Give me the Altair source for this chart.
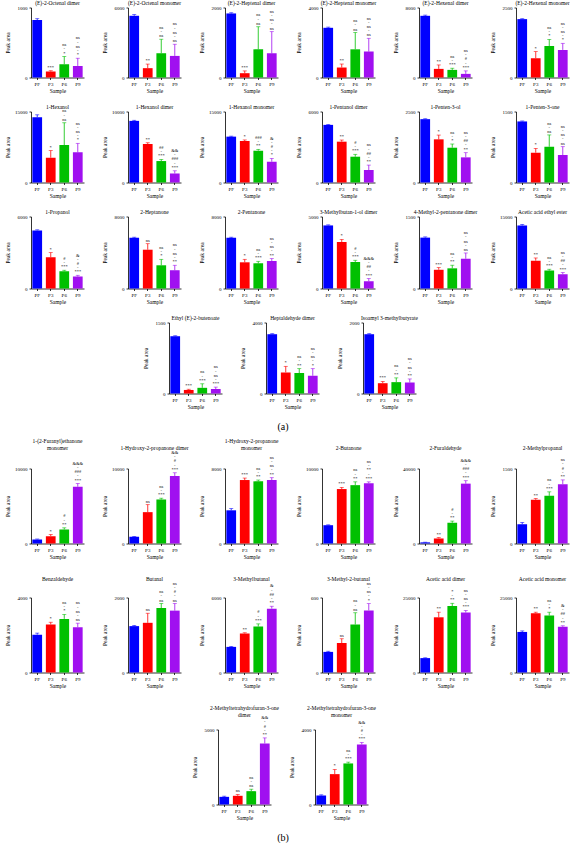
import altair as alt
import pandas as pd

SAMPLES = ["PF", "P3", "P6", "P9"]
COLORS = ["#0000ff", "#ff0000", "#00c000", "#a010f0"]
FONT = "Liberation Serif"

# ---------------- (a) ----------------
A_TITLES = [
    "(E)-2-Octenal dimer", "(E)-2-Octenal monomer", "(E)-2-Heptenal dimer",
    "(E)-2-Heptenal monomer", "(E)-2-Hexenal dimer", "(E)-2-Hexenal monomer",
    "1-Hexanol", "1-Hexanol dimer", "1-Hexanol monomer",
    "1-Pentanol dimer", "1-Penten-3-ol", "1-Penten-3-one",
    "1-Propanol", "2-Heptanone", "2-Pentanone",
    "3-Methylbutan-1-ol dimer", "4-Methyl-2-pentanone dimer", "Acetic acid ethyl ester",
    "Ethyl (E)-2-butenoate", "Heptaldehyde dimer", "Isoamyl 3-methylbutyrate",
]
A_MEANS = [
    [820, 85, 190, 165], [5290, 800, 2080, 1850], [1830, 123, 805, 690],
    [2840, 570, 1610, 1480], [7050, 985, 870, 415], [2085, 690, 1125, 985],
    [13800, 5240, 7920, 6370], [8680, 5420, 3020, 1270], [9690, 8770, 6720, 4390],
    [4870, 3450, 2180, 1050], [2230, 1520, 1225, 885], [1290, 630, 755, 580],
    [4840, 2600, 1440, 1000], [5640, 4310, 2580, 2030], [5640, 2910, 2800, 3060],
    [4380, 3230, 1840, 510], [1060, 390, 420, 620], [13130, 5800, 3730, 2970],
    [1210, 75, 120, 95], [3340, 1190, 1150, 1000], [1670, 290, 320, 310],
]
A_ERRS = [
    [20, 12, 110, 110], [100, 350, 1200, 1000], [20, 65, 645, 620],
    [40, 200, 960, 760], [80, 450, 190, 340], [15, 235, 235, 235],
    [500, 1500, 4700, 1900], [80, 180, 230, 380], [100, 220, 280, 700],
    [40, 140, 200, 420], [15, 150, 130, 165], [10, 90, 250, 177],
    [50, 390, 80, 100], [60, 670, 660, 550], [60, 330, 220, 260],
    [40, 180, 120, 180], [15, 45, 65, 120], [200, 560, 280, 350],
    [10, 15, 85, 40], [30, 340, 250, 400], [15, 50, 120, 100],
]
A_SIGS = [
    ["", "***", "ns/*", "ns/ns/*"], ["", "**", "ns/ns", "ns/ns/ns"], ["", "***", "ns/ns", "ns/ns/ns"],
    ["", "**", "ns/ns", "ns/ns/ns"], ["", "**", "ns/***", "ns/#/***"], ["", "*", "ns/*", "ns/ns/*"],
    ["", "*", "ns/ns", "ns/ns/*"], ["", "**", "##/***", "&&/###/***"], ["", "*", "###/**", "&/#/*"],
    ["", "**", "#/***", "ns/##/**"], ["", "*", "ns/*", "ns/##/**"], ["", "*", "ns/ns", "ns/ns/ns"],
    ["", "*", "#/***", "&/#/***"], ["", "ns", "ns/*", "ns/ns/**"], ["", "*", "ns/***", "ns/ns/**"],
    ["", "*", "#/***", "&&&/##/***"], ["", "***", "ns/**", "ns/ns/ns"], ["", "**", "ns/***", "ns/##/***"],
    ["", "***", "ns/***", "ns/ns/***"], ["", "*", "ns/**", "ns/ns/*"], ["", "***", "ns/**", "ns/ns/**"],
]
A_YMAX = [1000, 6000, 2000, 4000, 8000, 2500,
          15000, 10000, 15000, 6000, 2500, 1500,
          6000, 8000, 8000, 5000, 1500, 15000,
          1500, 4000, 2000]
A_YSTEP = [200, 2000, 500, 1000, 2000, 500,
           5000, 2000, 5000, 2000, 500, 500,
           2000, 2000, 2000, 1000, 500, 5000,
           500, 1000, 500]

# ---------------- (b) ----------------
B_TITLES = [
    "1-(2-Furanyl)ethanone|monomer", "1-Hydroxy-2-propanone dimer", "1-Hydroxy-2-propanone|monomer",
    "2-Butanone", "2-Furaldehyde", "2-Methylpropanal",
    "Benzaldehyde", "Butanal", "3-Methylbutanal",
    "3-Methyl-2-butanal", "Acetic acid dimer", "Acetic acid monomer",
    "2-Methyltetrahydrofuran-3-one|dimer", "2-Methyltetrahydrofuran-3-one|monomer",
]
B_MEANS = [
    [550, 980, 1870, 7570], [900, 4180, 5870, 9000], [3540, 6770, 6630, 6770],
    [2440, 7260, 7780, 8040], [600, 2680, 11070, 31930], [385, 873, 953, 1187],
    [2020, 2560, 2860, 2420], [1237, 1325, 1720, 1650], [2050, 3120, 3680, 5110],
    [165, 236, 384, 497], [4800, 18400, 22160, 20000], [13520, 19770, 18980, 15230],
    [510, 580, 890, 4070], [480, 1620, 2190, 3200],
]
B_ERRS = [
    [50, 220, 220, 430], [40, 1000, 170, 430], [180, 210, 140, 250],
    [50, 220, 440, 180], [100, 520, 890, 1570], [35, 27, 80, 85],
    [80, 120, 240, 210], [17, 255, 120, 190], [40, 60, 210, 190],
    [5, 34, 94, 54], [100, 1700, 910, 700], [340, 330, 1120, 340],
    [45, 90, 130, 370], [35, 250, 70, 110],
]
B_SIGS = [
    ["", "*", "#/**", "&&&/###/***"], ["", "ns", "ns/***", "&&/#/***"], ["", "***", "ns/**", "ns/ns/**"],
    ["", "***", "ns/**", "ns/**/***"], ["", "**", "#/**", "&&&/###/***"], ["", "**", "ns/***", "ns/#/**"],
    ["", "*", "ns/*", "ns/ns/ns"], ["", "ns", "ns/ns", "ns/#/ns"], ["", "**", "#/***", "&/##/**"],
    ["", "ns", "ns/ns", "ns/ns/*"], ["", "**", "*/**", "ns/ns/***"], ["", "**", "ns/*", "&/##/**"],
    ["", "ns", "ns/ns", "&&/#/**"], ["", "*", "ns/***", "&&/#/***"],
]
B_YMAX = [10000, 10000, 8000, 10000, 40000, 1500,
          4000, 2000, 6000, 600, 25000, 25000,
          5000, 4000]
B_YSTEP = [2000, 2000, 2000, 2000, 10000, 500,
           1000, 500, 2000, 200, 5000, 5000,
           1000, 1000]

PW = 53
GAP = 44
LH = 4.2     # line height of the significance stacks, px
TLH = 7      # line height of the panel titles, px


def panel(title, means, errs, sigs, ymax, ystep, height, toff):
    tops = [m + e for m, e in zip(means, errs)]
    df = pd.DataFrame({"Sample": SAMPLES, "mean": means, "top": tops})
    # one row per text line of the significance stacks (k = 0 is the lowest line)
    rows = []
    for s, t, sig in zip(SAMPLES, tops, sigs):
        if not sig:
            continue
        parts = sig.split("/")
        lines = []
        for j, p in enumerate(parts):
            if j:
                lines.append("-")
            lines.append(p)
        for k, ln in enumerate(reversed(lines)):
            rows.append({"Sample": s, "top": t, "line": ln, "k": k})
    tdf = pd.DataFrame(rows)

    xs = alt.X("Sample:N", sort=SAMPLES,
               scale=alt.Scale(domain=SAMPLES, paddingInner=0.28, paddingOuter=0.1),
               axis=alt.Axis(title="Sample", labelAngle=0, titlePadding=2))
    y = alt.Y("mean:Q", scale=alt.Scale(domain=[0, ymax], nice=False, zero=True),
              axis=alt.Axis(title="Peak area", values=list(range(0, ymax + 1, ystep)),
                            minExtent=18, maxExtent=18, titlePadding=3, format="d"))
    color = alt.Color("Sample:N", scale=alt.Scale(domain=SAMPLES, range=COLORS), legend=None)
    xb = alt.X("Sample:N", sort=SAMPLES)
    base = alt.Chart(df)
    layers = [
        base.mark_bar().encode(x=xs, y=y, color=color),
        base.mark_rule(strokeWidth=0.8).encode(x=xb, y="mean:Q", y2="top:Q", color=color),
        base.mark_tick(orient="horizontal", size=4, thickness=0.8).encode(
            x=xb, y="top:Q", color=color),
    ]
    for k in range(5):
        sub = tdf[tdf["k"] == k]
        if len(sub) == 0:
            continue
        layers.append(alt.Chart(sub).mark_text(
            font=FONT, fontSize=4.5, baseline="bottom", dy=-1 - k * LH, color="black").encode(
            x=xb, y="top:Q", text="line:N"))
    # panel title, drawn as text above the plot area at a fixed distance
    tl = title.split("|")
    n = len(tl)
    for i, line in enumerate(tl):
        layers.append(alt.Chart(pd.DataFrame({"t": [line]})).mark_text(
            font=FONT, fontSize=5.5, baseline="bottom", align="center", color="black").encode(
            x=alt.value(PW / 2), y=alt.value(-toff - (n - 1 - i) * TLH), text="t:N"))
    return alt.layer(*layers).properties(width=PW, height=height)


def spacer(w, h):
    return alt.Chart(pd.DataFrame({"a": [0]})).mark_point(opacity=0, size=1).encode(
        x=alt.value(0), y=alt.value(h)).properties(width=w, height=h)


def row(titles, means, errs, sigs, ymax, ystep, idx, height, toff, lead=0):
    charts = []
    if lead:
        charts.append(spacer(lead, height))
    for i in idx:
        charts.append(panel(titles[i], means[i], errs[i], sigs[i], ymax[i], ystep[i], height, toff))
    return alt.hconcat(*charts, spacing=GAP, bounds="flush")


def label(txt, h, ty):
    return alt.Chart(pd.DataFrame({"t": [txt]})).mark_text(
        font=FONT, fontSize=10, baseline="middle", align="center", color="black").encode(
        x=alt.value(252), y=alt.value(ty), text="t:N").properties(width=535, height=h)


A = alt.vconcat(
    row(A_TITLES, A_MEANS, A_ERRS, A_SIGS, A_YMAX, A_YSTEP, range(0, 6), 70, 2),
    row(A_TITLES, A_MEANS, A_ERRS, A_SIGS, A_YMAX, A_YSTEP, range(6, 12), 71, 2),
    row(A_TITLES, A_MEANS, A_ERRS, A_SIGS, A_YMAX, A_YSTEP, range(12, 18), 72, 2),
    row(A_TITLES, A_MEANS, A_ERRS, A_SIGS, A_YMAX, A_YSTEP, range(18, 21), 71, 2, lead=138 - GAP),
    spacing=10,
)
B = alt.vconcat(
    row(B_TITLES, B_MEANS, B_ERRS, B_SIGS, B_YMAX, B_YSTEP, range(0, 6), 75, 18),
    row(B_TITLES, B_MEANS, B_ERRS, B_SIGS, B_YMAX, B_YSTEP, range(6, 12), 75, 16),
    row(B_TITLES, B_MEANS, B_ERRS, B_SIGS, B_YMAX, B_YSTEP, range(12, 14), 75, 12, lead=187 - GAP),
    spacing=16,
)

chart = alt.vconcat(A, label("(a)", 28, 16.5), B, label("(b)", 20, 16), spacing=0).properties(
    padding={"left": 5, "top": 0.5, "right": 0, "bottom": 0}
).configure_view(strokeWidth=0).configure_axis(
    domainColor="black", domainWidth=0.8, tickColor="black", tickWidth=0.8, tickSize=2,
    labelFont=FONT, labelFontSize=5, labelColor="black", labelPadding=2,
    titleFont=FONT, titleFontSize=5.5, titleFontWeight="normal", titleColor="black", grid=False,
).configure_concat(spacing=0)

chart.save("out.html", embed_options={"renderer": "svg", "actions": False})
